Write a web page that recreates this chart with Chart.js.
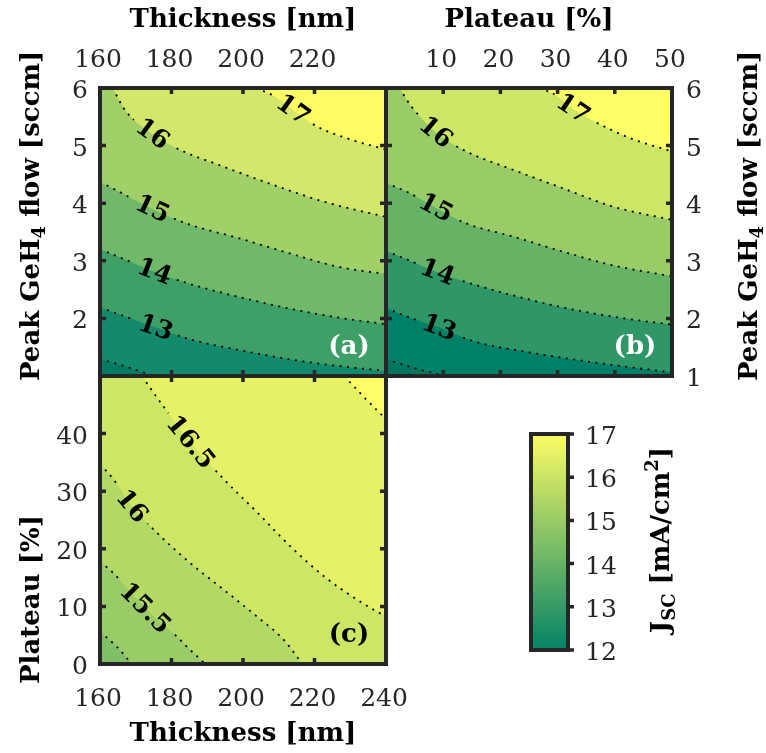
<!DOCTYPE html>
<html>
<head>
<meta charset="utf-8">
<title>Jsc contour maps</title>
<script src="https://cdn.jsdelivr.net/npm/chart.js@4.4.1/dist/chart.umd.min.js"></script>
<style>
  html, body { margin: 0; padding: 0; background: #fff; overflow: hidden; }
  #wrap { position: relative; width: 766px; height: 753px; }
  #wrap canvas { position: absolute; left: 0; top: 0; }
</style>
</head>
<body>
<div id="wrap">
  <canvas id="chartA" width="766" height="753"></canvas>
  <canvas id="chartB" width="766" height="753"></canvas>
  <canvas id="chartC" width="766" height="753"></canvas>
  <canvas id="colorbar" width="766" height="753"></canvas>
</div>
<script>
// ---- data ----
const levelsTop = [12, 13, 14, 15, 16, 17];
const levelsC = [15, 15.5, 16, 16.5, 17];

const thickTicks = [160, 180, 200, 220, 240];
const flowTicks = [1, 2, 3, 4, 5, 6];
const plateauTicks = [0, 10, 20, 30, 40, 50];
const jscTicks = [12, 13, 14, 15, 16, 17];

// (a) thickness [nm] vs peak GeH4 flow [sccm]
const a12 = [[160, 1.30], [167.3, 1.16], [175.2, 1.0]];
const a13 = [[160, 2.19], [166.3, 2.05], [175.6, 1.84], [185, 1.64], [199, 1.45], [213, 1.29], [227.1, 1.17], [240, 1.09]];
const a14 = [[160, 3.20], [166.3, 3.04], [175.2, 2.81], [185, 2.60], [199, 2.37], [213, 2.17], [227.1, 2.01], [240, 1.90]];
const a15 = [[160, 4.37], [164.4, 4.23], [174.7, 3.90], [184.1, 3.65], [199, 3.39], [213, 3.13], [227.1, 2.89], [240, 2.77]];
const a16 = [[163.5, 6], [167.2, 5.60], [174.7, 5.20], [181.2, 4.96], [194.3, 4.64], [208.4, 4.32], [222.4, 4.03], [240, 3.76]];
const a17 = [[203.7, 6], [209.3, 5.84], [214, 5.62], [220.5, 5.34], [229.9, 5.11], [240, 4.93]];
const aLabelAt = [null, 175.6, 175.2, 174.7, 174.7, 214];

// (b) plateau [%] vs peak GeH4 flow [sccm]
const b12 = [[0, 1.29], [4.6, 1.15], [10.2, 1.0]];
const b13 = [[0, 2.18], [4, 2.02], [9.3, 1.84], [15.1, 1.61], [25.1, 1.41], [36.8, 1.23], [50, 1.06]];
const b14 = [[0, 3.17], [4, 3.01], [9, 2.80], [14, 2.63], [22.2, 2.40], [30.9, 2.19], [39.7, 2.03], [50, 1.89]];
const b15 = [[0, 4.35], [4, 4.18], [8.7, 3.92], [14, 3.65], [22.2, 3.42], [30.9, 3.16], [39.7, 2.92], [50, 2.73]];
const b16 = [[2.3, 6], [4.6, 5.66], [8.7, 5.23], [13.4, 4.93], [22.2, 4.58], [30.9, 4.26], [39.7, 3.94], [50, 3.71]];
const b17 = [[26.8, 6], [29.8, 5.87], [32.7, 5.64], [36.8, 5.40], [43.2, 5.11], [50, 4.90]];
const bLabelAt = [null, 9.3, 9, 8.7, 8.7, 32.7];

// (c) thickness [nm] vs plateau [%]
const c15 = [[160, 5.6], [164.7, 3.0], [168.9, 0]];
const c155 = [[160, 17.8], [163.7, 15.8], [172.6, 9.7], [180.6, 5.3], [185.3, 2.4], [189.5, 0]];
const c16 = [[160, 34.7], [163.7, 32.1], [168.9, 27.4], [175.9, 22.8], [185.3, 17.5], [194.6, 12.9], [204, 8.2], [211.4, 4.2], [216.6, 0]];
const c165 = [[171.7, 50], [175.9, 46.3], [185.3, 38.5], [194.6, 32.1], [204, 26.3], [213.3, 20.4], [222.7, 15.2], [232.1, 11.1], [240, 8.2]];
const c17 = [[228.3, 50], [233.9, 46.3], [240, 42.5]];
const cLabelAt = [null, 172.6, 168.9, 185.3, null];

// band colours (summer colormap, value of the lower level)
const aColors = ['#138a6b', '#3fa067', '#70b968', '#a2d068', '#d3e86a', '#fefe64'];
const bColors = ['#008066', '#2f9767', '#66b366', '#99cc66', '#cce666', '#ffff66'];
const cColors = ['#99cc66', '#b2d966', '#cce666', '#e6f266', '#ffff66'];

const TITLE = 'bold 26px "DejaVu Serif"';
const SUB = 'bold 18px "DejaVu Serif"';
const TICK = '25px "DejaVu Serif"';
const CLABEL = 'bold 25px "DejaVu Serif"';
const EDGE = '#262626';

function drawRich(ctx, parts, x, y, rot, align) {
  ctx.save();
  ctx.translate(x, y);
  ctx.rotate(rot);
  ctx.textBaseline = 'alphabetic';
  ctx.textAlign = 'left';
  let total = 0;
  parts.forEach(p => { ctx.font = p.font; total += ctx.measureText(p.t).width; });
  let cx = align === 'center' ? -total / 2 : 0;
  parts.forEach(p => {
    ctx.font = p.font;
    ctx.fillStyle = p.color || '#000';
    ctx.fillText(p.t, cx, p.dy || 0);
    cx += ctx.measureText(p.t).width;
  });
  ctx.restore();
}

function labelSpot(chart, index, xVal) {
  const pts = chart.getDatasetMeta(index).data;
  const px = chart.scales.x.getPixelForValue(xVal);
  let k = 0;
  pts.forEach((p, i) => { if (Math.abs(p.x - px) < Math.abs(pts[k].x - px)) k = i; });
  const p0 = pts[Math.max(0, k - 1)], p1 = pts[Math.min(pts.length - 1, k + 1)];
  return { x: pts[k].x, y: pts[k].y, angle: Math.atan2(p1.y - p0.y, p1.x - p0.x) };
}

function contourSets(lines, levels, colors, labelAt, xMax, yMin) {
  const sets = [];
  // highest level first so that lower bands get filled first
  for (let i = levels.length - 1; i >= 0; i--) {
    const line = lines[i];
    const pts = line.map(p => ({ x: p[0], y: p[1] }));
    const n = line.length;
    if (line[n - 1][1] === yMin && line[n - 1][0] < xMax) {
      // a line that leaves through the bottom edge: carry it on below the
      // plot (clipped) so the band above it covers the rest of the bottom
      const s = (line[n - 1][1] - line[n - 2][1]) / (line[n - 1][0] - line[n - 2][0]);
      pts.push({ x: xMax, y: yMin + s * (xMax - line[n - 1][0]) });
    }
    sets.push({
      data: pts,
      level: levels[i],
      labelAt: labelAt[i],
      fill: 'end',
      backgroundColor: colors[i],
      borderColor: '#000',
      borderWidth: 1.8,
      borderDash: [2, 5.5],
      pointRadius: 0,
      cubicInterpolationMode: 'monotone'
    });
  }
  return sets;
}

function panelPlugin(cfg) {
  return {
    id: 'panel',
    beforeDraw(chart) {
      const { ctx, chartArea: a } = chart;
      ctx.save();
      ctx.fillStyle = cfg.base;
      ctx.fillRect(a.left, a.top, a.right - a.left, a.bottom - a.top);
      ctx.restore();
    },
    beforeDatasetDraw(chart, args) {
      const ctx = chart.ctx;
      const ds = chart.data.datasets[args.index];
      ctx.save();
      if (ds.labelAt == null) return;
      // leave a gap in the dotted line where the level label sits
      const s = labelSpot(chart, args.index, ds.labelAt);
      ctx.font = CLABEL;
      const w = ctx.measureText(String(ds.level)).width / 2 + 6, h = 13;
      const c = Math.cos(s.angle), n = Math.sin(s.angle);
      const corner = (u, v) => [s.x + u * c - v * n, s.y + u * n + v * c];
      ctx.beginPath();
      ctx.rect(0, 0, chart.width, chart.height);
      [[-w, -h], [w, -h], [w, h], [-w, h]].forEach((q, i) => {
        const p = corner(q[0], q[1]);
        if (i === 0) ctx.moveTo(p[0], p[1]); else ctx.lineTo(p[0], p[1]);
      });
      ctx.closePath();
      ctx.clip('evenodd');
    },
    afterDatasetDraw(chart) {
      chart.ctx.restore();
    },
    afterDatasetsDraw(chart) {
      const ctx = chart.ctx;
      chart.data.datasets.forEach((ds, i) => {
        if (ds.labelAt == null) return;
        const s = labelSpot(chart, i, ds.labelAt);
        ctx.save();
        ctx.translate(s.x, s.y);
        ctx.rotate(s.angle);
        ctx.font = CLABEL;
        ctx.fillStyle = '#000';
        ctx.textAlign = 'center';
        ctx.textBaseline = 'middle';
        ctx.fillText(String(ds.level), 0, 1);
        ctx.restore();
      });
    },
    afterDraw(chart) {
      const { ctx, chartArea: a } = chart;
      const xs = chart.scales.x, ys = chart.scales.y;
      ctx.save();
      // inward tick marks on all four sides
      ctx.strokeStyle = EDGE;
      ctx.lineWidth = 3.5;
      ctx.beginPath();
      cfg.xTicks.slice(1, -1).forEach(v => {
        const px = xs.getPixelForValue(v);
        ctx.moveTo(px, a.top); ctx.lineTo(px, a.top + 6);
        ctx.moveTo(px, a.bottom); ctx.lineTo(px, a.bottom - 6);
      });
      cfg.yTicks.slice(1, -1).forEach(v => {
        const py = ys.getPixelForValue(v);
        ctx.moveTo(a.left, py); ctx.lineTo(a.left + 6, py);
        ctx.moveTo(a.right, py); ctx.lineTo(a.right - 6, py);
      });
      ctx.stroke();
      ctx.lineWidth = 4;
      ctx.strokeRect(a.left, a.top, a.right - a.left, a.bottom - a.top);

      // tick labels
      ctx.font = TICK;
      ctx.fillStyle = EDGE;
      ctx.textBaseline = 'alphabetic';
      ctx.textAlign = 'center';
      cfg.xLabels.forEach(v => {
        const px = xs.getPixelForValue(v) - 2;
        ctx.fillText(String(v), px, cfg.xSide === 'top' ? 67 : 706);
      });
      ctx.textAlign = cfg.ySide === 'left' ? 'right' : 'left';
      cfg.yLabels.forEach(v => {
        const py = ys.getPixelForValue(v);
        ctx.fillText(String(v), cfg.ySide === 'left' ? a.left - 12 : a.right + 14, py + 10);
      });

      // panel tag
      ctx.font = TITLE;
      ctx.fillStyle = cfg.tagColor;
      ctx.textAlign = 'center';
      ctx.fillText(cfg.tag, a.right - 37, a.bottom - 22);
      ctx.restore();

      // axis titles
      drawRich(ctx, cfg.xTitle, (a.left + a.right) / 2, cfg.xSide === 'top' ? 27 : 741, 0, 'center');
      drawRich(ctx, cfg.yTitle, cfg.yTitleX, cfg.yTitleY, -Math.PI / 2, 'left');
    }
  };
}

function makePanel(id, cfg, datasets) {
  const a = cfg.area;
  return new Chart(document.getElementById(id), {
    type: 'line',
    data: { datasets },
    options: {
      responsive: false,
      animation: false,
      events: [],
      layout: { padding: { left: a.l, top: a.t, right: 766 - a.r, bottom: 753 - a.b } },
      scales: {
        x: { type: 'linear', display: false, min: cfg.xTicks[0], max: cfg.xTicks[cfg.xTicks.length - 1] },
        y: { type: 'linear', display: false, min: cfg.yTicks[0], max: cfg.yTicks[cfg.yTicks.length - 1] }
      },
      plugins: {
        legend: { display: false },
        tooltip: { enabled: false },
        filler: { drawTime: 'beforeDatasetsDraw' }
      }
    },
    plugins: [panelPlugin(cfg)]
  });
}

const flowTitle = [
  { t: 'Peak GeH', font: TITLE },
  { t: '4', font: SUB, dy: 6 },
  { t: ' flow [sccm]', font: TITLE }
];
const thickTitle = [{ t: 'Thickness [nm]', font: TITLE }];
const plateauTitle = [{ t: 'Plateau [%]', font: TITLE }];

makePanel('chartA', {
  area: { l: 100, t: 88, r: 386, b: 376 },
  base: '#037c64',
  xTicks: thickTicks, yTicks: flowTicks,
  xLabels: [160, 180, 200, 220], xSide: 'top',
  yLabels: [2, 3, 4, 5, 6], ySide: 'left',
  xTitle: thickTitle, yTitle: flowTitle, yTitleX: 39, yTitleY: 381,
  tag: '(a)', tagColor: '#fff'
}, contourSets([a12, a13, a14, a15, a16, a17], levelsTop, aColors, aLabelAt, 240, 1));

makePanel('chartB', {
  area: { l: 386, t: 88, r: 672, b: 376 },
  base: '#00765f',
  xTicks: plateauTicks, yTicks: flowTicks,
  xLabels: [10, 20, 30, 40, 50], xSide: 'top',
  yLabels: [1, 2, 3, 4, 5, 6], ySide: 'right',
  xTitle: plateauTitle, yTitle: flowTitle, yTitleX: 757, yTitleY: 381,
  tag: '(b)', tagColor: '#fff'
}, contourSets([b12, b13, b14, b15, b16, b17], levelsTop, bColors, bLabelAt, 50, 1));

makePanel('chartC', {
  area: { l: 100, t: 376, r: 386, b: 664 },
  base: '#80bf66',
  xTicks: thickTicks, yTicks: plateauTicks,
  xLabels: [160, 180, 200, 220, 240], xSide: 'bottom',
  yLabels: [0, 10, 20, 30, 40], ySide: 'left',
  xTitle: thickTitle, yTitle: plateauTitle, yTitleX: 39, yTitleY: 684,
  tag: '(c)', tagColor: '#000'
}, contourSets([c15, c155, c16, c165, c17], levelsC, cColors, cLabelAt, 240, 0));

// ---- colour bar ----
const colorbarPlugin = {
  id: 'colorbar',
  afterDraw(chart) {
    const { ctx, chartArea: a } = chart;
    const ys = chart.scales.y;
    ctx.save();
    ctx.strokeStyle = EDGE;
    ctx.lineWidth = 3.5;
    ctx.beginPath();
    jscTicks.forEach(v => {
      const py = ys.getPixelForValue(v);
      ctx.moveTo(a.right, py); ctx.lineTo(a.right + 6, py);
    });
    ctx.stroke();
    ctx.lineWidth = 4;
    ctx.strokeRect(a.left, a.top, a.right - a.left, a.bottom - a.top);
    ctx.font = TICK;
    ctx.fillStyle = EDGE;
    ctx.textAlign = 'left';
    ctx.textBaseline = 'alphabetic';
    jscTicks.forEach(v => ctx.fillText(String(v), 585, ys.getPixelForValue(v) + 10));
    ctx.restore();
    drawRich(ctx, [
      { t: 'J', font: TITLE },
      { t: 'SC', font: SUB, dy: 6 },
      { t: ' [mA/cm', font: TITLE },
      { t: '2', font: SUB, dy: -11 },
      { t: ']', font: TITLE }
    ], 669, 540, -Math.PI / 2, 'center');
  }
};

new Chart(document.getElementById('colorbar'), {
  type: 'bar',
  data: {
    labels: [''],
    datasets: [{
      data: [[jscTicks[0], jscTicks[jscTicks.length - 1]]],
      borderWidth: 0,
      barPercentage: 1,
      categoryPercentage: 1,
      backgroundColor: c => {
        const a = c.chart.chartArea;
        if (!a) return '#80bf66';
        const g = c.chart.ctx.createLinearGradient(0, a.bottom, 0, a.top);
        g.addColorStop(0, '#048266');
        g.addColorStop(1, '#fcfc66');
        return g;
      }
    }]
  },
  options: {
    responsive: false,
    animation: false,
    events: [],
    layout: { padding: { left: 531, top: 434, right: 766 - 568, bottom: 753 - 650 } },
    scales: {
      x: { display: false },
      y: { display: false, min: jscTicks[0], max: jscTicks[jscTicks.length - 1] }
    },
    plugins: { legend: { display: false }, tooltip: { enabled: false } }
  },
  plugins: [colorbarPlugin]
});
</script>
</body>
</html>
